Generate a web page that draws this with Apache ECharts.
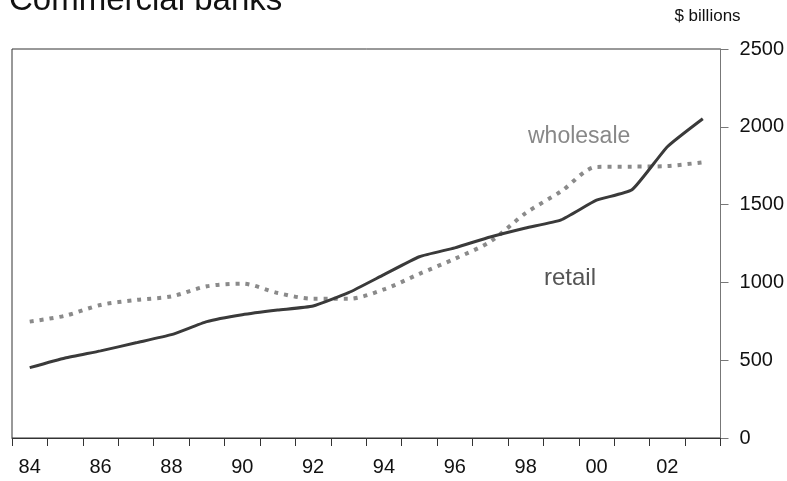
<!DOCTYPE html>
<html>
<head>
<meta charset="utf-8">
<script src="https://cdn.jsdelivr.net/npm/echarts@6/dist/echarts.min.js"></script>
<style>
  html, body { margin: 0; padding: 0; background: #fff; }
  #chart { width: 787px; height: 481px; }
</style>
</head>
<body>
<div id="chart"></div>
<script>
// years 1984..2003, labelled as two digits
const years = ["84", "85", "86", "87", "88", "89", "90", "91", "92", "93",
  "94", "95", "96", "97", "98", "99", "00", "01", "02", "03"];
// $ billions
const retail = [452, 514, 560, 612, 664, 748, 792, 822, 848, 934,
  1050, 1165, 1222, 1292, 1350, 1402, 1528, 1595, 1872, 2052];
const wholesale = [748, 786, 855, 887, 910, 975, 992, 932, 895, 895,
  955, 1055, 1152, 1262, 1445, 1585, 1742, 1744, 1748, 1772];
const yTicks = { min: 0, max: 2500, step: 500 };

const chart = echarts.init(document.getElementById("chart"));
const font = "Liberation Sans";

chart.setOption({
  backgroundColor: "#fff",
  animation: false,
  textStyle: { fontFamily: font },
  title: {
    text: "Commercial banks",
    left: 4,
    top: -21,
    textStyle: { fontFamily: font, fontSize: 33, fontWeight: "normal", color: "#111" },
  },
  grid: {
    left: 12,
    right: 64,
    top: 49,
    bottom: 43,
    show: true,
    borderColor: "#333",
    borderWidth: 1,
  },
  xAxis: {
    type: "category",
    data: years,
    boundaryGap: true,
    axisLine: { lineStyle: { color: "#333", width: 1 } },
    axisTick: { show: true, interval: 0, length: 8, lineStyle: { color: "#333" } },
    axisLabel: { interval: 1, margin: 19, fontSize: 20, color: "#111", fontFamily: font },
    splitLine: { show: false },
  },
  yAxis: {
    type: "value",
    position: "right",
    min: yTicks.min,
    max: yTicks.max,
    interval: yTicks.step,
    name: "$ billions",
    nameLocation: "end",
    nameGap: 24,
    nameTextStyle: { fontSize: 17, color: "#111", fontFamily: font, align: "center", padding: [0, 26, 0, 0] },
    axisLine: { show: true, lineStyle: { color: "#777", width: 1 } },
    axisTick: { show: true, length: 8, lineStyle: { color: "#777" } },
    axisLabel: {
      margin: 19,
      fontSize: 20,
      color: "#111",
      fontFamily: font,
      formatter: (v) => String(v),
    },
    splitLine: { show: false },
  },
  graphic: [
    {
      type: "text",
      left: 528,
      top: 125,
      style: { text: "wholesale", fontSize: 23, fill: "#888", fontFamily: font },
    },
    {
      type: "text",
      left: 544,
      top: 266,
      style: { text: "retail", fontSize: 24, fill: "#555", fontFamily: font },
    },
  ],
  series: [
    {
      name: "wholesale",
      type: "line",
      data: wholesale,
      smooth: 0.3,
      showSymbol: false,
      lineStyle: { color: "#8a8a8a", width: 4, type: [4, 6] },
      z: 2,
    },
    {
      name: "retail",
      type: "line",
      data: retail,
      smooth: 0.15,
      showSymbol: false,
      lineStyle: { color: "#3a3a3a", width: 3 },
      z: 3,
    },
  ],
});
</script>
</body>
</html>
